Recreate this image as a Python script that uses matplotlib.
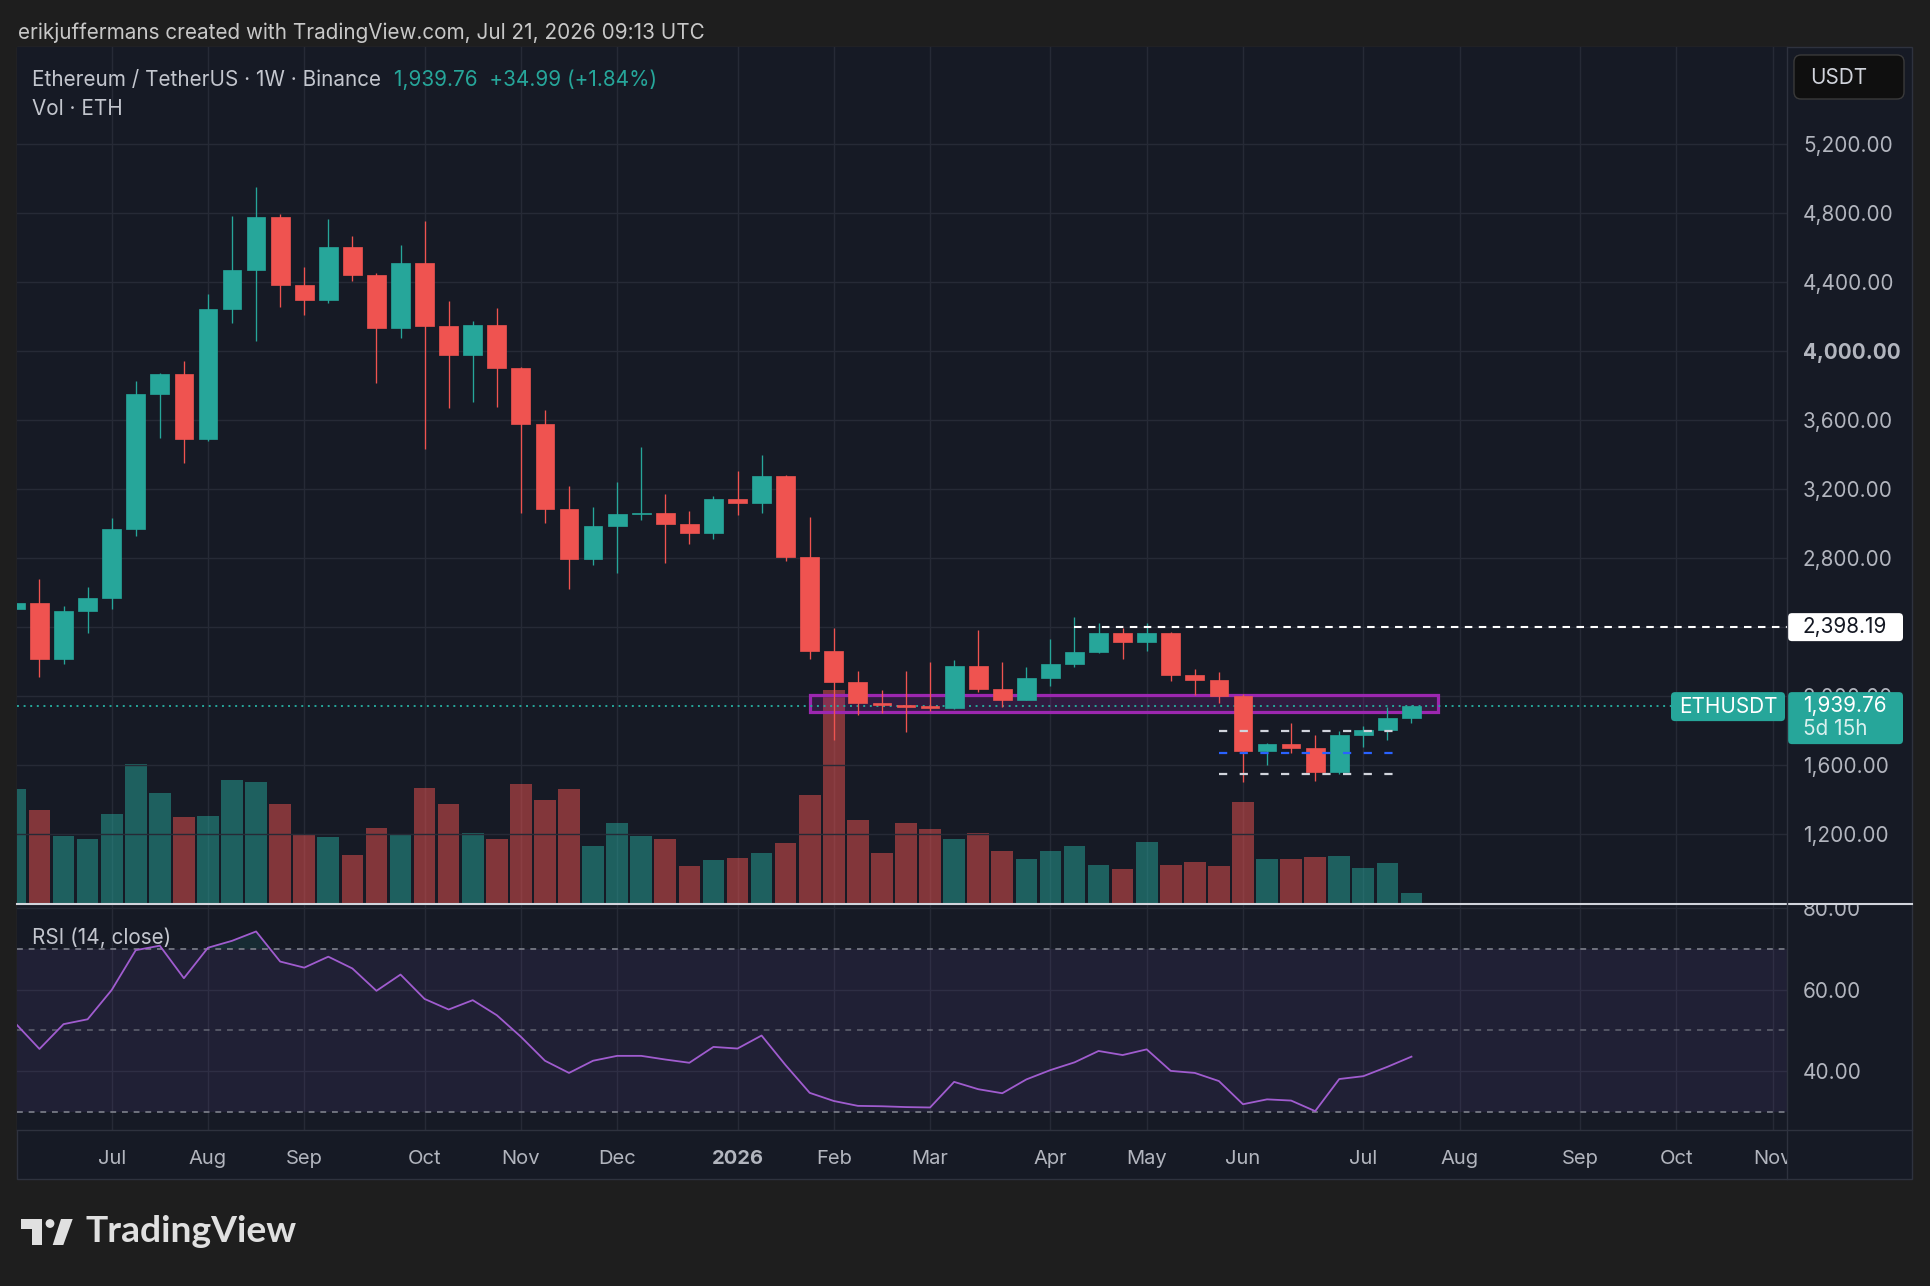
import numpy as np
import pandas as pd
import matplotlib
matplotlib.use("Agg")
import matplotlib.pyplot as plt
from matplotlib.patches import Rectangle, FancyBboxPatch, Polygon, Circle
from matplotlib.transforms import Bbox, TransformedBbox

# ---------------------------------
# DATA (weekly ETH / USDT)
# ---------------------------------
start_week = "2025-06-09"

opens = [2501, 2539, 2214, 2493, 2565, 2967, 3751, 3869, 3488, 4244,
         4469, 4778, 4385, 4298, 4602, 4440, 4136, 4509, 4145, 3977,
         4153, 3900, 3575, 3085, 2791, 2986, 3054, 3062, 2994, 2944,
         3139, 3116, 3277, 2807, 2261, 2077, 1955, 1948, 1936, 1930,
         2174, 2042, 1977, 2102, 2184, 2255, 2362, 2313, 2365, 2118,
         2089, 1998, 1681, 1719, 1698, 1559, 1775, 1801, 1868]
highs = [2880, 2677, 2520, 2631, 3033, 3824, 3874, 3940, 4331, 4784,
         4952, 4795, 4490, 4765, 4668, 4451, 4615, 4755, 4290, 4173,
         4250, 3909, 3656, 3217, 3095, 3238, 3441, 3168, 3075, 3161,
         3304, 3400, 3280, 3039, 2391, 2143, 2033, 2143, 2193, 2207,
         2381, 2193, 2164, 2329, 2458, 2420, 2396, 2420, 2370, 2153,
         2137, 2013, 1723, 1843, 1772, 1797, 1826, 1936, 1946]
lows = [2440, 2110, 2185, 2367, 2505, 2928, 3497, 3350, 3480, 4165,
        4058, 4258, 4211, 4277, 4408, 3814, 4077, 3433, 3671, 3706,
        3677, 3058, 3000, 2617, 2760, 2714, 3019, 2770, 2882, 2907,
        3050, 3060, 2780, 2214, 1742, 1888, 1901, 1791, 1913, 1922,
        2021, 1936, 1975, 2058, 2168, 2250, 2214, 2261, 2087, 2004,
        1959, 1497, 1597, 1665, 1506, 1543, 1704, 1746, 1839]
closes = [2539, 2214, 2493, 2565, 2967, 3751, 3869, 3488, 4244, 4469,
          4778, 4385, 4298, 4602, 4440, 4136, 4509, 4145, 3977, 4153,
          3900, 3575, 3085, 2791, 2986, 3054, 3062, 2994, 2944, 3139,
          3116, 3277, 2807, 2261, 2077, 1955, 1948, 1936, 1930, 2174,
          2042, 1977, 2102, 2184, 2255, 2362, 2313, 2365, 2118, 2089,
          1998, 1681, 1719, 1698, 1559, 1775, 1801, 1868, 1939.76]
# weekly volume, million ETH
volume = [4.56, 3.72, 2.67, 2.56, 3.55, 5.55, 4.39, 3.44, 3.47, 4.91,
          4.84, 3.94, 2.71, 2.63, 1.90, 2.99, 2.71, 4.60, 3.94, 2.78,
          2.56, 4.75, 4.11, 4.54, 2.28, 3.18, 2.67, 2.54, 1.48, 1.70,
          1.79, 1.98, 2.39, 4.30, 8.51, 3.31, 1.98, 3.19, 2.95, 2.54,
          2.78, 2.07, 1.74, 2.06, 2.26, 1.51, 1.35, 2.43, 1.51, 1.63,
          1.48, 4.02, 1.76, 1.76, 1.83, 1.87, 1.38, 1.59, 0.39]
rsi = [51.7, 45.4, 51.5, 52.7, 59.9, 69.7, 70.8, 62.8, 70.3, 72.0,
       74.3, 66.9, 65.4, 68.1, 65.2, 59.7, 63.7, 57.7, 55.1, 57.4,
       53.7, 48.4, 42.5, 39.5, 42.5, 43.7, 43.7, 42.8, 42.0, 45.9,
       45.5, 48.7, 41.4, 34.6, 32.6, 31.4, 31.3, 31.1, 31.0, 37.3,
       35.5, 34.5, 37.9, 40.2, 42.1, 44.9, 43.9, 45.3, 40.0, 39.5,
       37.5, 31.8, 33.0, 32.7, 30.1, 38.0, 38.7, 41.0, 43.5]

last_price = 1939.76
change_abs = 34.99
change_pct = 1.84
countdown = "5d 15h"

marked_level = 2398.19          # white dashed line
level_from = 44.0               # bar index where it starts
range_lines = [1795, 1545]      # grey dashed range
range_mid = 1669                # blue dashed mid
range_from, range_to = 50.0, 57.6
zone_low, zone_high = 1908, 2004   # purple box
zone_from, zone_to = 33.0, 59.1

price_ticks = [1200, 1600, 2000, 2400, 2800, 3200, 3600, 4000, 4400, 4800, 5200]
hidden_tick = 2400              # sits under the marked level label
rsi_ticks = [40, 60, 80]
rsi_bands = [70, 50, 30]
n_axis_weeks = 75

# ---------------------------------
# STYLE / LAYOUT (pixels of the 1930x1286 output)
# ---------------------------------
W, H = 1930, 1286
L, R, RIGHT = 17, 1787, 1912
TOP, MAIN_BOT, RSI_TOP, RSI_BOT, BOT = 47, 902.5, 905, 1130, 1179
PX_PER_USD = 0.1723
PX_PER_RSI = 4.065
PX_PER_VOL = 25.0

BG_OUT = "#1e1e1e"
BG = "#161a25"
GRID = "#262a36"
BORDER = "#2e323e"
TXT = "#b2b5be"
UP = "#26a69a"
DOWN = "#ef5350"
PURPLE = "#9c27b0"
RSI_COL = "#a05ccf"
FS = 14.9

plt.rcParams["font.family"] = ["Inter", "DejaVu Sans"]

fig = plt.figure(figsize=(W / 100, H / 100), dpi=100, facecolor=BG_OUT)


def rect(top, bottom):
    return [L / W, 1 - bottom / H, (R - L) / W, (bottom - top) / H]


# background + overlay in pixel coordinates
bg = fig.add_axes([0, 0, 1, 1], zorder=-5)
bg.set_xlim(0, W)
bg.set_ylim(H, 0)
bg.axis("off")
bg.add_patch(Rectangle((L, TOP), RIGHT - L, BOT - TOP, fc=BG, ec=BORDER, lw=1))

ax_vol = fig.add_axes(rect(TOP, MAIN_BOT), zorder=1)
ax = fig.add_axes(rect(TOP, MAIN_BOT), zorder=2, sharex=ax_vol)
ax_rsi = fig.add_axes(rect(RSI_TOP, RSI_BOT), zorder=1, sharex=ax_vol)

ov = fig.add_axes([0, 0, 1, 1], zorder=10)
ov.set_xlim(0, W)
ov.set_ylim(H, 0)
ov.axis("off")

o = np.array(opens, float)
hi = np.array(highs, float)
lo = np.array(lows, float)
c = np.array(closes, float)
x = np.arange(len(c))
up = c >= o
col = np.where(up, UP, DOWN)

x_left = (L - 15.4) / 24.07
x_right = (R - 15.4) / 24.07

# months on the time axis
weeks = pd.date_range(start_week, periods=n_axis_weeks, freq="7D")
month_idx = [i for i in range(1, n_axis_weeks) if weeks[i].month != weeks[i - 1].month]
month_lab = [str(weeks[i].year) if weeks[i].month == 1 else weeks[i].strftime("%b") for i in month_idx]

for a in (ax_vol, ax, ax_rsi):
    for s in a.spines.values():
        s.set_visible(False)
    a.set_xticks(month_idx)
    a.tick_params(axis="x", length=0, labelbottom=False)

# ---------------------------------
# VOLUME
# ---------------------------------
ax_vol.set_facecolor(BG)
vol_col = [(0.149, 0.651, 0.604, 0.5) if u else (0.937, 0.325, 0.314, 0.5) for u in up]
ax_vol.bar(x, volume, width=0.9, color=vol_col, lw=0)
ax_vol.set_ylim(0, (MAIN_BOT - TOP) / PX_PER_VOL)
ax_vol.set_yticks([])
ax_vol.grid(axis="x", color=GRID, lw=1)
ax_vol.set_axisbelow(True)

# ---------------------------------
# PRICE PANE
# ---------------------------------
ax.patch.set_visible(False)
ax.set_xlim(x_left, x_right)
ax.set_ylim(800, 800 + (MAIN_BOT - TOP) / PX_PER_USD)
ax.set_yticks(price_ticks)
ax.set_yticklabels(["" if p == hidden_tick else f"{p:,.2f}" for p in price_ticks])
ax.yaxis.tick_right()
ax.tick_params(axis="y", length=0, pad=11.5, labelsize=FS, labelcolor=TXT)
for lab, p in zip(ax.get_yticklabels(), price_ticks):
    if p == 4000:
        lab.set_fontweight("bold")
ax.grid(axis="y", color=GRID, lw=1)
ax.set_axisbelow(True)

# purple zone
ax.add_patch(Rectangle((zone_from, zone_low), zone_to - zone_from, zone_high - zone_low,
                       fc=(0.61, 0.15, 0.69, 0.2), ec=PURPLE, lw=2.3, zorder=2))

# current price dotted line
ax.axhline(last_price, color=UP, lw=1.4, ls=(0, (1, 2.4)), zorder=2)

# candles
ax.vlines(x, lo, hi, color=col, lw=0.95, zorder=3)
body_h = np.maximum(np.abs(c - o), 10)
body_lo = (o + c) / 2 - body_h / 2
ax.bar(x, body_h, bottom=body_lo, width=0.78, color=col, edgecolor=col, lw=0.5, zorder=4)

# levels
ax.hlines(marked_level, level_from, x_right, color="white", lw=1.5, ls=(0, (3.6, 3.1)), zorder=5)
ax.hlines(range_lines, range_from, range_to, color="#d1d4dc", lw=1.6, ls=(0, (3.7, 5.6)), zorder=5)
ax.hlines(range_mid, range_from, range_to, color="#2962ff", lw=1.6, ls=(0, (3.7, 5.6)), zorder=5)

# ---------------------------------
# RSI PANE
# ---------------------------------
ax_rsi.set_facecolor(BG)
ax_rsi.set_ylim(80 - (RSI_BOT - 908.3) / PX_PER_RSI, 80 + (908.3 - RSI_TOP) / PX_PER_RSI)
ax_rsi.axhspan(30, 70, color="#7e57c2", alpha=0.1, lw=0)
r = np.array(rsi)
ax_rsi.fill_between(x, 70, r, where=r >= 70, interpolate=True, color=UP, alpha=0.12, lw=0)
for b in rsi_bands:
    ax_rsi.axhline(b, color="#787b86", lw=1.4, ls=(0, (3, 3)), alpha=0.9 if b != 50 else 0.6)
ax_rsi.plot(x, r, color=RSI_COL, lw=1.3, zorder=4)
ax_rsi.set_yticks(rsi_ticks)
ax_rsi.set_yticklabels([f"{t:.2f}" for t in rsi_ticks])
ax_rsi.yaxis.tick_right()
ax_rsi.tick_params(axis="y", length=0, pad=11.5, labelsize=FS, labelcolor=TXT)
ax_rsi.grid(color=GRID, lw=1)
ax_rsi.set_axisbelow(True)
rsi_clip = TransformedBbox(Bbox([[R / W, 1 - RSI_BOT / H], [1, 1 - RSI_TOP / H]]), fig.transFigure)
for lab in ax_rsi.get_yticklabels():
    lab.set_clip_box(rsi_clip)
    lab.set_clip_on(True)

# ---------------------------------
# TIME AXIS
# ---------------------------------
time_clip = TransformedBbox(Bbox([[L / W, 0], [R / W, 1]]), fig.transFigure)
for i, lab in zip(month_idx, month_lab):
    xp = ax_rsi.transData.transform((i, 0))[0]
    t = ov.text(xp * W / fig.bbox.width, 1159, lab, ha="center", va="center", fontsize=14.5,
                color=TXT, fontweight="bold" if lab.isdigit() else "normal")
    t.set_clip_box(time_clip)
    t.set_clip_on(True)

# ---------------------------------
# FRAME, LABELS, TITLES
# ---------------------------------
ov.plot([L, RIGHT], [903.8, 903.8], color="#d1d4dc", lw=1.5)
ov.plot([L, RIGHT], [RSI_BOT, RSI_BOT], color=BORDER, lw=1)
ov.plot([R, R], [TOP, BOT], color=BORDER, lw=1)


def py(p):
    return H - ax.transData.transform((0, p))[1] * H / fig.bbox.height


y_lvl = py(marked_level)
ov.add_patch(FancyBboxPatch((R + 1, y_lvl - 14), 115, 28, boxstyle="round,pad=0,rounding_size=4",
                            fc="white", ec="none"))
ov.text(1803, y_lvl, f"{marked_level:,.2f}", va="center", fontsize=FS, color="#131722")

y_last = py(last_price)
ov.add_patch(FancyBboxPatch((R + 1, y_last - 14), 115, 52, boxstyle="round,pad=0,rounding_size=4",
                            fc=UP, ec="none"))
ov.text(1803, y_last, f"{last_price:,.2f}", va="center", fontsize=FS, color="white")
ov.text(1803, y_last + 23, countdown, va="center", fontsize=FS, color="#d8f0ee")
ov.add_patch(FancyBboxPatch((1671, y_last - 14), 114, 29, boxstyle="round,pad=0,rounding_size=4",
                            fc=UP, ec="none"))
ov.text(1728, y_last + 0.5, "ETHUSDT", ha="center", va="center", fontsize=FS, color="white")

ov.add_patch(FancyBboxPatch((1794, 55), 110, 44, boxstyle="round,pad=0,rounding_size=7",
                            fc="#0f0f0f", ec="#3a3a3a", lw=1))
ov.text(1810, 78, "USDT", va="center", fontsize=FS, color="#d1d4dc")

ov.text(18, 33, "erikjuffermans created with TradingView.com, Jul 21, 2026 09:13 UTC",
        va="center", fontsize=14.9, color="#c8c8c8")
ov.text(32, 80, "Ethereum / TetherUS · 1W · Binance", va="center", fontsize=14.9, color="#c3c6ce")
ov.text(394, 80, f"{last_price:,.2f}  +{change_abs:.2f} (+{change_pct:.2f}%)",
        va="center", fontsize=14.9, color=UP)
ov.text(32, 109, "Vol · ETH", va="center", fontsize=14.9, color="#c3c6ce")
ov.text(32, 938, "RSI (14, close)", va="center", fontsize=14.9, color="#c3c6ce")

# TradingView logo
LOGO = "#e0e0e0"
ov.add_patch(Polygon([(21, 1219), (42.3, 1219), (42.3, 1245), (32.3, 1245), (32.3, 1229), (21, 1229)],
                     closed=True, fc=LOGO, ec="none"))
ov.add_patch(Circle((50, 1223.5), 4.4, fc=LOGO, ec="none"))
ov.add_patch(Polygon([(61, 1219), (72.7, 1219), (63.3, 1245), (52.7, 1245)], closed=True, fc=LOGO, ec="none"))
ov.text(86, 1232, "TradingView", va="center", fontsize=26.8, fontweight="bold", color=LOGO,
        family=["Lato", "DejaVu Sans"])

plt.savefig("out.png", dpi=100, facecolor=BG_OUT)
